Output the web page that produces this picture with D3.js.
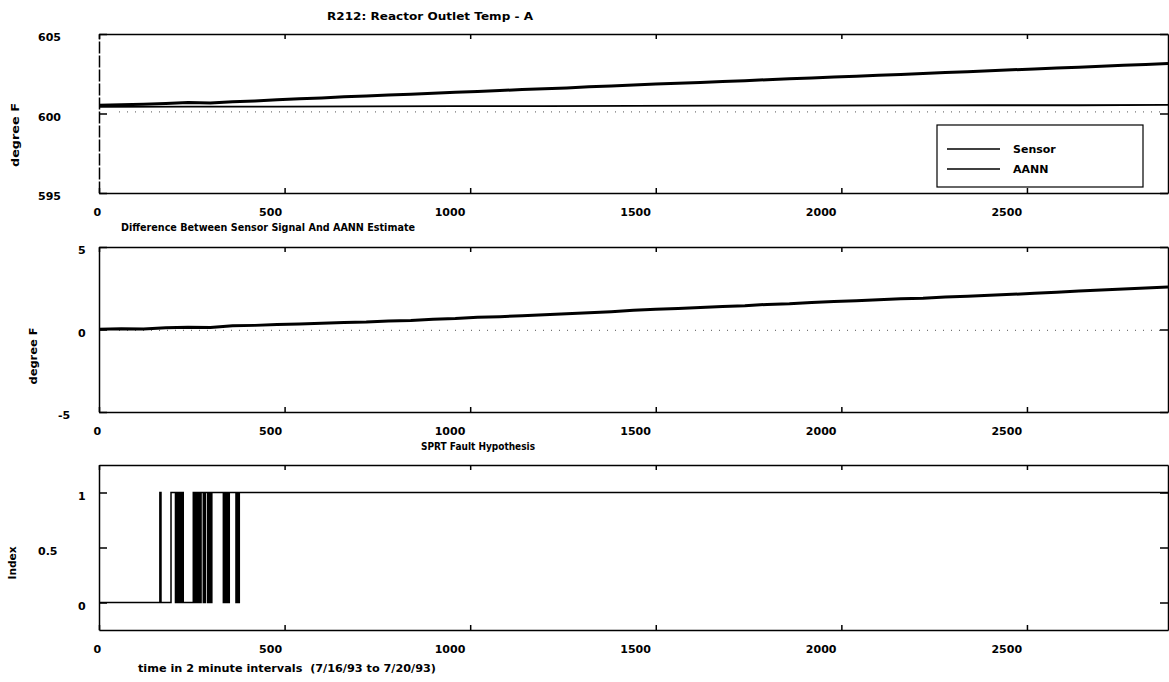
<!DOCTYPE html>
<html>
<head>
<meta charset="utf-8">
<script src="https://cdnjs.cloudflare.com/ajax/libs/d3/7.8.5/d3.min.js"></script>
<style>
body { margin: 0; background: #fff; }
text { font-family: "DejaVu Sans", sans-serif; font-weight: bold; fill: #000; white-space: pre; }
.domain, .tick line { stroke: #000; stroke-width: 1.5; }
</style>
</head>
<body>
<div id="chart"></div>
<script>
// readings every 60 samples (2 minute intervals)
const sampleStep = 60;
const sensorTemp = [600.52, 600.55, 600.58, 600.63, 600.69, 600.66, 600.74, 600.79, 600.86, 600.93,
    600.98, 601.05, 601.10, 601.16, 601.21, 601.27, 601.33, 601.39, 601.44, 601.51,
    601.56, 601.61, 601.68, 601.73, 601.79, 601.85, 601.90, 601.95, 602.02, 602.06,
    602.13, 602.19, 602.23, 602.30, 602.35, 602.41, 602.46, 602.52, 602.58, 602.62,
    602.69, 602.75, 602.80, 602.86, 602.91, 602.97, 603.03, 603.08, 603.15];

const aannStep = 240;
const aannTemp = [600.42, 600.43, 600.43, 600.45, 600.46, 600.46, 600.48, 600.49, 600.49, 600.51, 600.52, 600.52, 600.54];

const diffTemp = [0.02, 0.05, 0.03, 0.10, 0.14, 0.12, 0.22, 0.25, 0.30, 0.33,
    0.38, 0.42, 0.45, 0.52, 0.55, 0.62, 0.66, 0.74, 0.78, 0.84,
    0.90, 0.95, 1.02, 1.08, 1.16, 1.22, 1.27, 1.33, 1.40, 1.44,
    1.52, 1.56, 1.63, 1.69, 1.74, 1.80, 1.86, 1.90, 1.97, 2.02,
    2.08, 2.13, 2.20, 2.26, 2.33, 2.39, 2.46, 2.52, 2.58];

// faint dotted levels seen in the scan
const tempRefLevel = 600.1;
const diffRefLevel = -0.05;

const sprtTimes = [0, 164, 167, 194, 206, 209, 211, 213, 215, 217, 219, 221, 223, 225, 227,
    254, 256, 258, 260, 262, 264, 266, 268, 270, 272, 275,
    281, 283, 285, 287, 293, 295, 297, 299, 301, 304,
    335, 337, 339, 341, 343, 346, 348, 351,
    369, 372, 374, 378, 2880];
const sprtValues = [0, 1, 0, 1, 0, 1, 0, 1, 0, 1, 0, 1, 0, 1, 0,
    1, 0, 1, 0, 1, 0, 1, 0, 1, 0, 1,
    0, 1, 0, 1, 0, 1, 0, 1, 0, 1,
    0, 1, 0, 1, 0, 1, 0, 1,
    0, 1, 0, 1, 1];

const timeDomain = [0, 2880];
const xTicks = [0, 500, 1000, 1500, 2000, 2500];
const tempTicks = [595, 600, 605];
const diffTicks = [-5, 0, 5];
const indexTicks = [0, 0.5, 1];
const legendNames = ["Sensor", "AANN"];

const width = 1169, height = 682;
const svg = d3.select("#chart").append("svg")
    .attr("width", width)
    .attr("height", height);

const x = d3.scaleLinear().domain(timeDomain).range([99, 1168]);
const plain = d => String(d);

function drawPanel(top, bottom, domain, ticks, dashedLeft) {
    const y = d3.scaleLinear().domain(domain).range([bottom, top]);
    const g = svg.append("g");

    g.append("g")
        .attr("transform", `translate(0,${bottom})`)
        .call(d3.axisBottom(x).tickValues(xTicks).tickFormat(plain)
            .tickSize(-5).tickSizeOuter(0).tickPadding(15))
        .call(a => a.selectAll("text")
            .attr("text-anchor", "start")
            .attr("font-size", 11)
            .attr("font-family", null)
            .attr("x", d => 4 - 10 * String(d).length));

    g.append("g")
        .attr("transform", `translate(0,${top})`)
        .call(d3.axisTop(x).tickValues(xTicks).tickSize(-5).tickSizeOuter(0).tickFormat(""));

    const left = g.append("g")
        .attr("transform", `translate(${x.range()[0]},0)`)
        .call(d3.axisLeft(y).tickValues(ticks).tickFormat(plain).tickSize(-8).tickSizeOuter(0))
        .call(a => a.selectAll("text")
            .attr("text-anchor", "start")
            .attr("font-size", 11)
            .attr("font-family", null)
            .attr("x", d => -1 - 20 * String(d).length)
            .attr("y", 3));
    if (dashedLeft) left.select(".domain").attr("stroke-dasharray", "12,2");

    g.append("g")
        .attr("transform", `translate(${x.range()[1]},0)`)
        .call(d3.axisRight(y).tickValues(ticks).tickSize(-8).tickSizeOuter(0).tickFormat(""));

    g.selectAll(".domain").attr("stroke-width", 1.8);
    return y;
}

function refLine(y, level) {
    svg.append("line")
        .attr("x1", x(0) + 20).attr("x2", x(2880) - 5)
        .attr("y1", y(level)).attr("y2", y(level))
        .attr("stroke", "#555")
        .attr("stroke-width", 1)
        .attr("stroke-dasharray", "1,7");
}

function title(txt, xPos, baseline, len, size) {
    svg.append("text")
        .attr("x", xPos).attr("y", baseline)
        .attr("font-size", size)
        .attr("textLength", len)
        .attr("lengthAdjust", "spacingAndGlyphs")
        .text(txt);
}

function yLabel(txt, cx, cy, len) {
    svg.append("text")
        .attr("transform", `translate(${cx},${cy}) rotate(-90)`)
        .attr("text-anchor", "middle")
        .attr("dy", "0.35em")
        .attr("font-size", 10)
        .attr("textLength", len)
        .attr("lengthAdjust", "spacingAndGlyphs")
        .text(txt);
}

// panel 1: temperature
const y1 = drawPanel(34, 193, [595, 605], tempTicks, true);
refLine(y1, tempRefLevel);
const tempLine = d3.line().x(d => x(d[0])).y(d => y1(d[1]));
svg.append("path")
    .datum(aannTemp.map((v, i) => [i * aannStep, v]))
    .attr("fill", "none").attr("stroke", "#000").attr("stroke-width", 1.8)
    .attr("d", tempLine);
svg.append("path")
    .datum(sensorTemp.map((v, i) => [i * sampleStep, v]))
    .attr("fill", "none").attr("stroke", "#000").attr("stroke-width", 3)
    .attr("stroke-linejoin", "round")
    .attr("d", tempLine);

// legend
const legend = svg.append("g").attr("transform", "translate(937,125)");
legend.append("rect")
    .attr("width", 206).attr("height", 62)
    .attr("fill", "#fff").attr("stroke", "#000").attr("stroke-width", 1.2);
legendNames.forEach((name, i) => {
    legend.append("line")
        .attr("x1", 10).attr("x2", 63)
        .attr("y1", 24 + i * 20).attr("y2", 24 + i * 20)
        .attr("stroke", "#000").attr("stroke-width", 1.5);
    legend.append("text")
        .attr("x", 76).attr("y", 28 + i * 20)
        .attr("font-size", 11)
        .text(name);
});

// panel 2: difference
const y2 = drawPanel(247, 412, [-5, 5], diffTicks, false);
refLine(y2, diffRefLevel);
svg.append("path")
    .datum(diffTemp.map((v, i) => [i * sampleStep, v]))
    .attr("fill", "none").attr("stroke", "#000").attr("stroke-width", 3)
    .attr("stroke-linejoin", "round")
    .attr("d", d3.line().x(d => x(d[0])).y(d => y2(d[1])));

// panel 3: SPRT
const y3 = drawPanel(465, 630, [-0.25, 1.25], indexTicks, false);
svg.append("path")
    .datum(sprtTimes.map((t, i) => [t, sprtValues[i]]))
    .attr("fill", "none").attr("stroke", "#000").attr("stroke-width", 1.5)
    .attr("d", d3.line().curve(d3.curveStepAfter).x(d => x(d[0])).y(d => y3(d[1])));

// texts
title("R212: Reactor Outlet Temp - A", 327, 20, 206, 11);
title("Difference Between Sensor Signal And AANN Estimate", 121, 231, 294, 10);
title("SPRT Fault Hypothesis", 421, 450, 114, 10);
title("time in 2 minute intervals  (7/16/93 to 7/20/93)", 138, 672, 298, 10);
yLabel("degree F", 15, 135, 64);
yLabel("degree F", 33, 356, 57);
yLabel("Index", 12, 563, 33);
</script>
</body>
</html>
